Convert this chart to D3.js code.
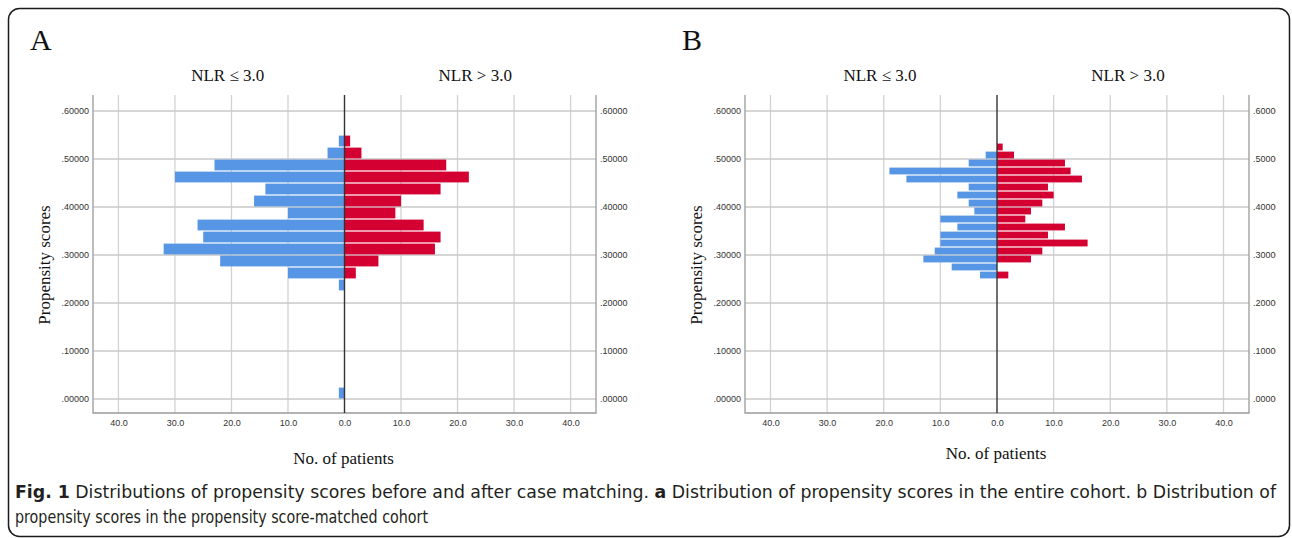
<!DOCTYPE html>
<html>
<head>
<meta charset="utf-8">
<script src="https://cdn.jsdelivr.net/npm/d3@7"></script>
<style>
  body { margin: 0; background: #fff; }
  svg { display: block; }
</style>
</head>
<body>
<svg width="1292" height="538"></svg>
<script>
// panel A: entire cohort, bins of 0.025 (lower edge)
var binsA  = [0.525, 0.5, 0.475, 0.45, 0.425, 0.4, 0.375, 0.35, 0.325, 0.3, 0.275, 0.25, 0.225, 0.0];
var lowA   = [1, 3, 23, 30, 14, 16, 10, 26, 25, 32, 22, 10, 1, 1];   // NLR <= 3.0
var highA  = [1, 3, 18, 22, 17, 10,  9, 14, 17, 16,  6,  2, 0, 0];   // NLR > 3.0
var binWA  = 0.025;

// panel B: matched cohort, bins of 1/60 (lower edge)
var binsB  = [0.51667, 0.5, 0.48333, 0.46667, 0.45, 0.43333, 0.41667, 0.4, 0.38333,
              0.36667, 0.35, 0.33333, 0.31667, 0.3, 0.28333, 0.26667, 0.25];
var lowB   = [0, 2, 5, 19, 16, 5, 7, 5, 4, 10, 7, 10, 10, 11, 13, 8, 3];
var highB  = [1, 3, 12, 13, 15, 9, 10, 8, 6, 5, 12, 9, 16, 8, 6, 0, 2];
var binWB  = 0.01667;

var xTicks = [-40, -30, -20, -10, 0, 10, 20, 30, 40];
var yTicks = [0, 0.1, 0.2, 0.3, 0.4, 0.5, 0.6];
var groupNames = ["NLR \u2264 3.0", "NLR > 3.0"];

var blue = "#5796e4", red = "#d50032";
var svg = d3.select("svg");

svg.append("rect")
  .attr("x", 8.5).attr("y", 8.5)
  .attr("width", 1281).attr("height", 528)
  .attr("rx", 11)
  .style("fill", "none").style("stroke", "#1a1a1a").style("stroke-width", 1.5);

svg.append("clipPath").attr("id", "pageclip")
  .append("rect").attr("x", 0).attr("y", 0).attr("width", 1276).attr("height", 538);

var plotTop = 95, plotBottom = 413;
var y = d3.scaleLinear().domain([0, 0.6]).range([399, 111]);

function drawPanel(letter, left, right, bins, low, high, binW) {
  var x = d3.scaleLinear().domain([-44.5, 44.5]).range([left, right]);
  var g = svg.append("g").attr("clip-path", "url(#pageclip)");
  var mid = x(0);

  // vertical grid
  g.selectAll(".vgrid").data(xTicks.filter(function(d){ return d != 0; }))
    .enter().append("line")
    .attr("x1", function(d){ return x(d); }).attr("x2", function(d){ return x(d); })
    .attr("y1", plotTop).attr("y2", plotBottom)
    .style("stroke", "#d2d2d2").style("stroke-width", 1.3);

  // horizontal grid
  g.selectAll(".hgrid").data(yTicks)
    .enter().append("line")
    .attr("x1", left).attr("x2", right)
    .attr("y1", function(d){ return y(d); }).attr("y2", function(d){ return y(d); })
    .style("stroke", "#c8c8c8").style("stroke-width", 1.3);

  // bars
  var rows = bins.map(function(b, i){ return {lo: b, l: low[i], r: high[i]}; });
  g.selectAll(".barL").data(rows.filter(function(d){ return d.l > 0; }))
    .enter().append("rect")
    .attr("x", function(d){ return x(-d.l); })
    .attr("width", function(d){ return mid - x(-d.l); })
    .attr("y", function(d){ return y(d.lo + binW) + 0.6; })
    .attr("height", function(d){ return y(d.lo) - y(d.lo + binW) - 1.2; })
    .style("fill", blue);
  g.selectAll(".barR").data(rows.filter(function(d){ return d.r > 0; }))
    .enter().append("rect")
    .attr("x", mid)
    .attr("width", function(d){ return x(d.r) - mid; })
    .attr("y", function(d){ return y(d.lo + binW) + 0.6; })
    .attr("height", function(d){ return y(d.lo) - y(d.lo + binW) - 1.2; })
    .style("fill", red);

  // frame
  var frame = "M" + left + "," + plotTop + "V" + plotBottom + "H" + right + "V" + plotTop;
  g.append("path").attr("d", frame)
    .style("fill", "none").style("stroke", "#9a9a9a").style("stroke-width", 1.3);
  g.append("line").attr("x1", mid).attr("x2", mid).attr("y1", plotTop).attr("y2", plotBottom)
    .style("stroke", "#333").style("stroke-width", 1.4);

  // axes
  var yfmt = function(d){ return d3.format(".5f")(d).replace(/^0/, ""); };
  var yl = g.append("g").attr("transform", "translate(" + (left - 4) + ",0)")
    .call(d3.axisLeft(y).tickValues(yTicks).tickFormat(yfmt).tickSize(0).tickPadding(0));
  var yr = g.append("g").attr("transform", "translate(" + (right + 4) + ",0)")
    .call(d3.axisRight(y).tickValues(yTicks).tickFormat(yfmt).tickSize(0).tickPadding(0));
  var xa = g.append("g").attr("transform", "translate(0," + (plotBottom + 7) + ")")
    .call(d3.axisBottom(x).tickValues(xTicks)
      .tickFormat(function(d){ return Math.abs(d).toFixed(1); }).tickSize(0).tickPadding(0));
  [yl, yr, xa].forEach(function(a){
    a.select(".domain").remove();
    a.selectAll("text").style("font-family", "'Liberation Sans', Arial, sans-serif")
      .style("font-size", "9px").style("fill", "#333");
  });
  xa.selectAll("text").attr("dy", "0.71em");

  // titles
  var serif = "'Liberation Serif', 'Times New Roman', serif";
  svg.append("text").attr("x", left - 63).attr("y", 50).text(letter)
    .style("font-family", serif).style("font-size", "30px").style("fill", "#111");
  svg.append("text").attr("x", (left + mid) / 2 + 9).attr("y", 81).attr("text-anchor", "middle")
    .text(groupNames[0]).style("font-family", serif).style("font-size", "17px").style("fill", "#111");
  svg.append("text").attr("x", (mid + right) / 2 + 5).attr("y", 81).attr("text-anchor", "middle")
    .text(groupNames[1]).style("font-family", serif).style("font-size", "17px").style("fill", "#111");
  svg.append("text").attr("x", mid - 1).attr("y", letter == "A" ? 464 : 459).attr("text-anchor", "middle")
    .text("No. of patients").style("font-family", serif).style("font-size", "17px").style("fill", "#111");
  svg.append("text").attr("transform", "translate(" + (left - 43) + ",265) rotate(-90)")
    .attr("text-anchor", "middle").text("Propensity scores")
    .style("font-family", serif).style("font-size", "17px").style("fill", "#111");
}

drawPanel("A", 93, 596, binsA, lowA, highA, binWA);
drawPanel("B", 745, 1249, binsB, lowB, highB, binWB);

// caption
var cap = "'DejaVu Sans Condensed', 'Open Sans', sans-serif";
var c1 = svg.append("text").attr("x", 15).attr("y", 498)
  .attr("textLength", 1261).attr("lengthAdjust", "spacingAndGlyphs")
  .style("font-family", cap).style("font-size", "17px").style("fill", "#231f20");
c1.append("tspan").style("font-weight", "bold").text("Fig. 1");
c1.append("tspan").text(" Distributions of propensity scores before and after case matching. ");
c1.append("tspan").style("font-weight", "bold").text("a");
c1.append("tspan").text(" Distribution of propensity scores in the entire cohort. b Distribution of");
svg.append("text").attr("x", 15).attr("y", 523)
  .attr("textLength", 413).attr("lengthAdjust", "spacingAndGlyphs")
  .style("font-family", cap).style("font-size", "17px").style("fill", "#231f20")
  .text("propensity scores in the propensity score-matched cohort");
</script>
</body>
</html>
